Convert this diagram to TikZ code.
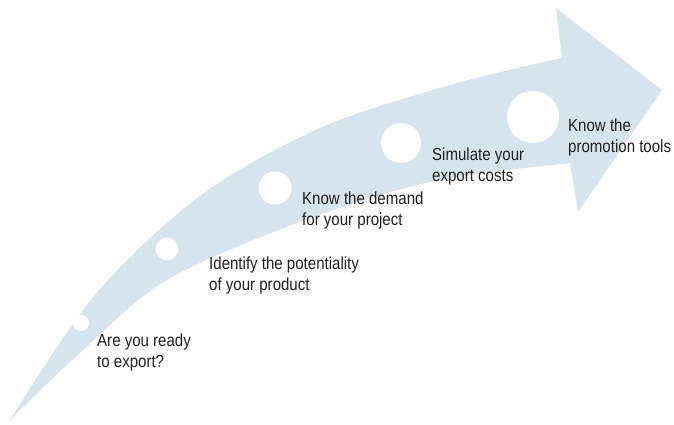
\documentclass[tikz,border=0pt]{standalone}
\usepackage{fontspec}
\setmainfont[FakeStretch=0.86]{Liberation Sans}
\usepackage{xcolor}
\usetikzlibrary{positioning}
\definecolor{ArrowBlue}{HTML}{D6E5ED}
\definecolor{StepText}{HTML}{231F20}
\tikzset{
    arrowbody/.style={
        fill=ArrowBlue
    },
    stepdot/.style={
        circle,
        fill=white,
        inner sep=0pt,
        minimum size=#1
    },
    stepdot/.default=20pt,
    steplabel/.style={
        anchor=base west,
        inner sep=0pt,
        align=left,
        text=StepText,
        font=\fontsize{17.5}{20.5}\selectfont
    }
}

\begin{document}
\begin{tikzpicture}[x=1pt, y=-1pt]
        \useasboundingbox (0,0) rectangle (674,425);

        % Curved arrow
        \fill[arrowbody] plot[smooth, tension=0.55] coordinates {(10,420) (95,295) (200,196) (320,128) (450,85) (562,58)}
            -- (556,8) -- (662,90) -- (578,212) -- (570,163)
            -- plot[smooth, tension=0.55] coordinates {(570,163) (430,182) (300,222) (167,280) (83,350) (10,420)}
            -- cycle;

        % Steps along the arrow
        \node[stepdot=16pt] (c1) at (81,323) {};
        \node[stepdot=23pt] (c2) at (167,249) {};
        \node[stepdot=33pt] (c3) at (275,188) {};
        \node[stepdot=40pt] (c4) at (401,143) {};
        \node[stepdot=52pt] (c5) at (533,117) {};

        % Labels (base anchor sits on the last line)
        \node[steplabel] (t1) at (97,367) {Are you ready\\to export?};
        \node[steplabel] (t2) at (209,290) {Identify the potentiality\\of your product};
        \node[steplabel] (t3) at (302,225) {Know the demand\\for your project};
        \node[steplabel] (t4) at (432,181) {Simulate your\\export costs};
        \node[steplabel] (t5) at (568,152) {Know the\\promotion tools};
    \end{tikzpicture}
\end{document}
